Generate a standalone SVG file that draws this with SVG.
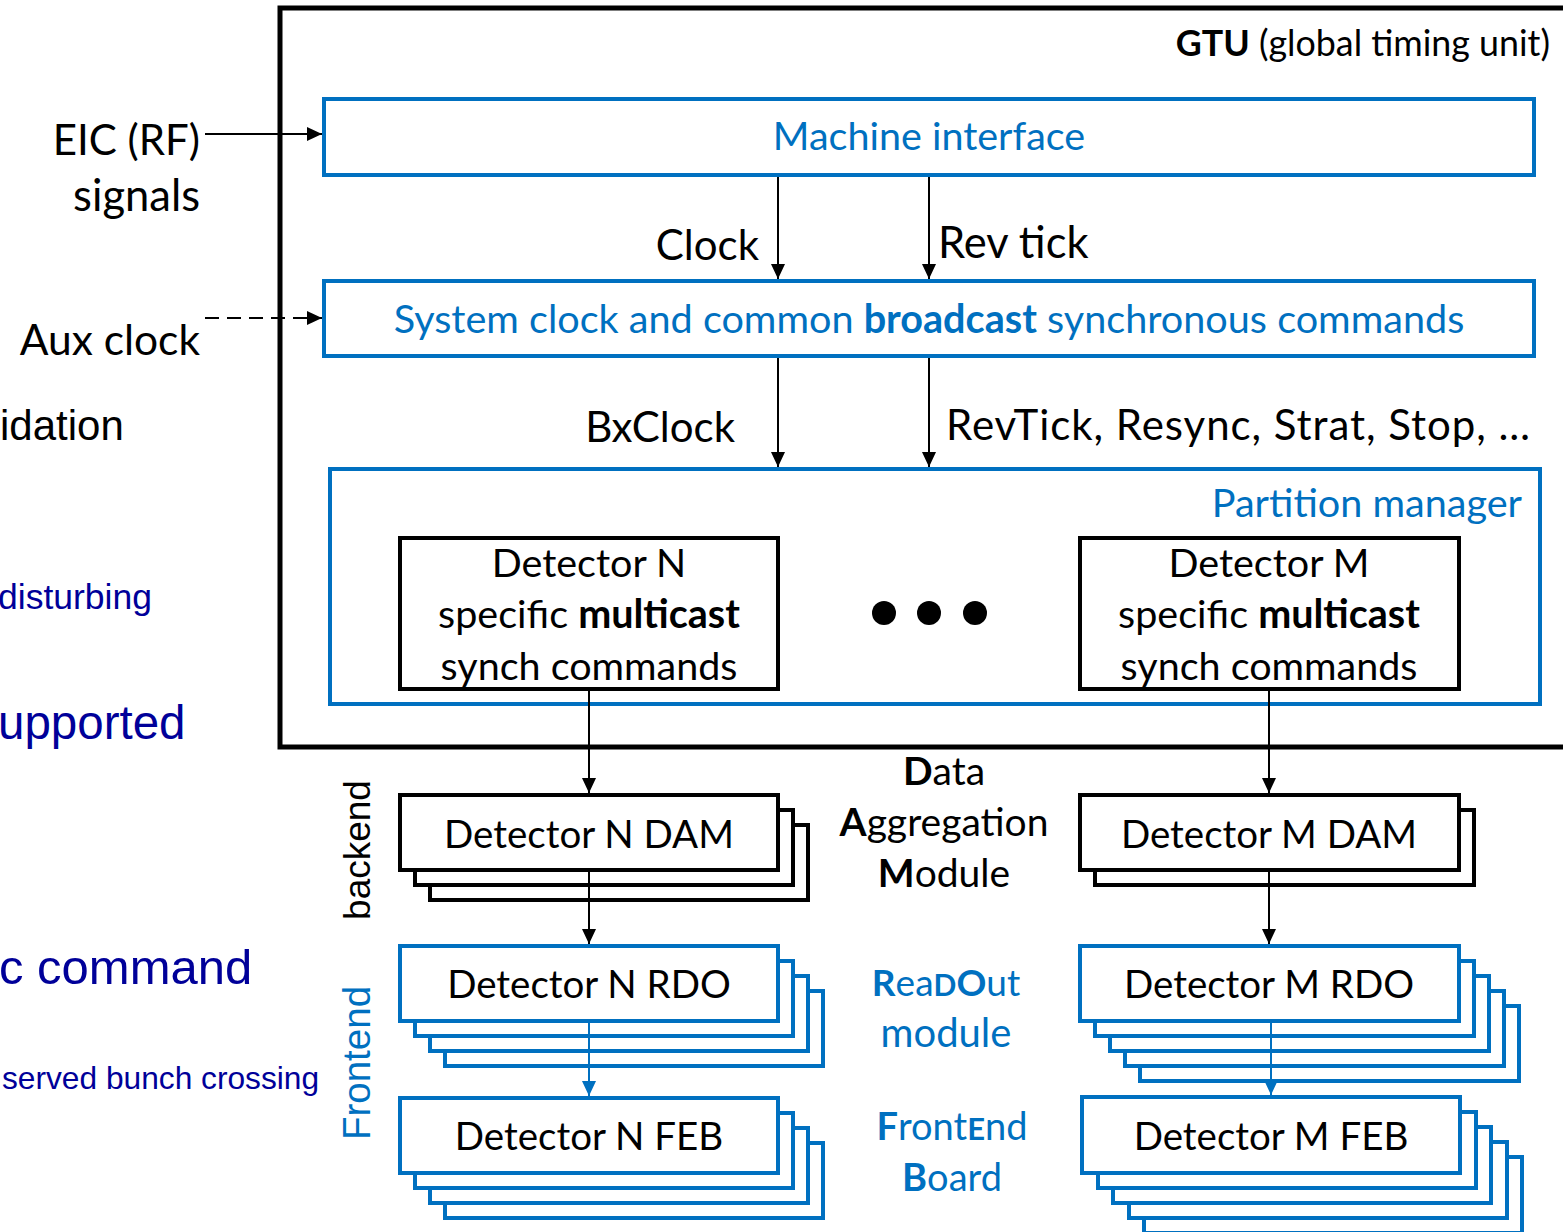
<svg xmlns="http://www.w3.org/2000/svg" width="1563" height="1232" viewBox="0 0 1563 1232">
  <defs>
    <style>
      .cal { font-family: Lato, "Open Sans", sans-serif; }
      .ari { font-family: "Liberation Sans", Arial, sans-serif; }
      .blk { fill: #000; }
      .blu { fill: #0070C0; }
      .nav { fill: #000099; }
      .b { font-weight: bold; }
      .boxB { fill: #fff; stroke: #0070C0; stroke-width: 4; }
      .boxK { fill: #fff; stroke: #000; stroke-width: 4; }
      .wire { fill: none; stroke: #000; stroke-width: 2; }
      .wireB { fill: none; stroke: #0070C0; stroke-width: 2; }
    </style>
    <marker id="arrK" markerUnits="userSpaceOnUse" markerWidth="16" markerHeight="14" refX="15" refY="7" orient="auto">
      <path d="M0,0 L15,7 L0,14 z" fill="#000"/>
    </marker>
    <marker id="arrB" markerUnits="userSpaceOnUse" markerWidth="16" markerHeight="14" refX="15" refY="7" orient="auto">
      <path d="M0,0 L15,7 L0,14 z" fill="#0070C0"/>
    </marker>
  </defs>

  <rect width="1563" height="1232" fill="#fff"/>

  <!-- side notes, partly outside the frame -->
  <g id="side-notes" class="ari">
    <text x="0" y="440" font-size="42" class="blk">idation</text>
    <text x="-2" y="609" font-size="35.5" class="nav">disturbing</text>
    <text x="-2" y="739" font-size="47.5" class="nav">upported</text>
    <text x="-1" y="984" font-size="49" class="nav">c command</text>
    <text x="2" y="1089" font-size="31.7" class="nav">served bunch crossing</text>
  </g>

  <!-- global timing unit frame -->
  <g id="gtu">
    <rect x="280" y="8" width="1300" height="739" fill="none" stroke="#000" stroke-width="5"/>
    <text x="1550" y="56" text-anchor="end" font-size="35.8" class="cal blk"><tspan class="b">GTU</tspan> (global timing unit)</text>
  </g>

  <!-- external inputs -->
  <g id="inputs" class="cal blk" font-size="42">
    <text x="200" y="155" text-anchor="end">EIC (RF)</text>
    <text x="200" y="211" text-anchor="end" font-size="43.5">signals</text>
    <text x="200" y="355" text-anchor="end" font-size="42.5">Aux clock</text>
  </g>

  <g id="machine-interface">
    <rect class="boxB" x="324" y="99" width="1210" height="76"/>
    <text x="929" y="150" text-anchor="middle" font-size="39.5" class="cal blu">Machine interface</text>
  </g>

  <g id="system-clock">
    <rect class="boxB" x="324" y="281" width="1210" height="75"/>
    <text x="929" y="333" text-anchor="middle" font-size="39.6" class="cal blu">System clock and common <tspan class="b">broadcast</tspan> synchronous commands</text>
  </g>

  <g id="partition-manager">
    <rect class="boxB" x="330" y="469" width="1210" height="235"/>
    <text x="1522" y="517" text-anchor="end" font-size="39.6" class="cal blu">Partition manager</text>
    <circle cx="884" cy="613" r="12" fill="#000"/>
    <circle cx="929" cy="613" r="12" fill="#000"/>
    <circle cx="975" cy="613" r="12" fill="#000"/>
  </g>

  <g id="multicast-n" class="cal blk" font-size="39.5">
    <rect class="boxK" x="400" y="538" width="378" height="151"/>
    <text x="589" y="577" text-anchor="middle">Detector N</text>
    <text x="589" y="628" text-anchor="middle">specific <tspan class="b">multicast</tspan></text>
    <text x="589" y="680" text-anchor="middle">synch commands</text>
  </g>

  <g id="multicast-m" class="cal blk" font-size="39.5">
    <rect class="boxK" x="1080" y="538" width="379" height="151"/>
    <text x="1269" y="577" text-anchor="middle">Detector M</text>
    <text x="1269" y="628" text-anchor="middle">specific <tspan class="b">multicast</tspan></text>
    <text x="1269" y="680" text-anchor="middle">synch commands</text>
  </g>

  <!-- level labels -->
  <g id="levels" class="ari">
    <text transform="translate(370,850) rotate(-90)" text-anchor="middle" font-size="37" class="blk">backend</text>
    <text transform="translate(370,1063) rotate(-90)" text-anchor="middle" font-size="38.5" class="blu">Frontend</text>
  </g>

  <g id="module-names" class="cal" font-size="39" text-anchor="middle">
    <text x="944" y="785" class="blk"><tspan class="b">D</tspan>ata</text>
    <text x="944" y="836" class="blk"><tspan class="b">A</tspan>ggregation</text>
    <text x="944" y="887" class="blk"><tspan class="b">M</tspan>odule</text>
    <text x="946" y="996" class="blu" font-size="37"><tspan class="b">R</tspan>ea<tspan class="b" font-size="30">D</tspan><tspan class="b">O</tspan>ut</text>
    <text x="946" y="1047" class="blu" font-size="40">module</text>
    <text x="952" y="1140" class="blu" font-size="38"><tspan class="b">F</tspan>ront<tspan class="b" font-size="31">E</tspan>nd</text>
    <text x="952" y="1191" class="blu" font-size="38"><tspan class="b">B</tspan>oard</text>
  </g>

  <!-- detector N chain -->
  <g id="dam-n" class="cal blk" font-size="38.5">
    <rect class="boxK" x="430" y="825" width="378" height="75"/>
    <rect class="boxK" x="415" y="810" width="378" height="75"/>
    <rect class="boxK" x="400" y="795" width="378" height="75"/>
    <text x="589" y="848" text-anchor="middle">Detector N DAM</text>
  </g>

  <g id="rdo-n" class="cal blk" font-size="38.5">
    <rect class="boxB" x="445" y="991" width="378" height="75"/>
    <rect class="boxB" x="430" y="976" width="378" height="75"/>
    <rect class="boxB" x="415" y="961" width="378" height="75"/>
    <rect class="boxB" x="400" y="946" width="378" height="75"/>
    <text x="589" y="998" text-anchor="middle">Detector N RDO</text>
  </g>

  <g id="feb-n" class="cal blk" font-size="38.5">
    <rect class="boxB" x="445" y="1143" width="378" height="75"/>
    <rect class="boxB" x="430" y="1128" width="378" height="75"/>
    <rect class="boxB" x="415" y="1113" width="378" height="75"/>
    <rect class="boxB" x="400" y="1098" width="378" height="75"/>
    <text x="589" y="1150" text-anchor="middle">Detector N FEB</text>
  </g>

  <!-- detector M chain -->
  <g id="dam-m" class="cal blk" font-size="38.5">
    <rect class="boxK" x="1095" y="810" width="379" height="75"/>
    <rect class="boxK" x="1080" y="795" width="379" height="75"/>
    <text x="1269" y="848" text-anchor="middle">Detector M DAM</text>
  </g>

  <g id="rdo-m" class="cal blk" font-size="38.5">
    <rect class="boxB" x="1140" y="1006" width="379" height="75"/>
    <rect class="boxB" x="1125" y="991" width="379" height="75"/>
    <rect class="boxB" x="1110" y="976" width="379" height="75"/>
    <rect class="boxB" x="1095" y="961" width="379" height="75"/>
    <rect class="boxB" x="1080" y="946" width="379" height="75"/>
    <text x="1269" y="998" text-anchor="middle">Detector M RDO</text>
  </g>

  <g id="feb-m" class="cal blk" font-size="38.5">
    <rect class="boxB" x="1144" y="1157" width="378" height="76"/>
    <rect class="boxB" x="1129" y="1142" width="378" height="76"/>
    <rect class="boxB" x="1113" y="1127" width="378" height="76"/>
    <rect class="boxB" x="1098" y="1112" width="378" height="76"/>
    <rect class="boxB" x="1082" y="1097" width="378" height="76"/>
    <text x="1271" y="1150" text-anchor="middle">Detector M FEB</text>
  </g>

  <!-- connectors -->
  <g id="connectors">
    <line class="wire" x1="205" y1="134" x2="322" y2="134" marker-end="url(#arrK)"/>
    <line class="wire" x1="205" y1="318" x2="322" y2="318" stroke-dasharray="14 8" marker-end="url(#arrK)"/>
    <line class="wire" x1="778" y1="177" x2="778" y2="279" marker-end="url(#arrK)"/>
    <line class="wire" x1="929" y1="177" x2="929" y2="279" marker-end="url(#arrK)"/>
    <line class="wire" x1="778" y1="358" x2="778" y2="467" marker-end="url(#arrK)"/>
    <line class="wire" x1="929" y1="358" x2="929" y2="467" marker-end="url(#arrK)"/>
    <line class="wire" x1="589" y1="691" x2="589" y2="793" marker-end="url(#arrK)"/>
    <line class="wire" x1="1269" y1="691" x2="1269" y2="793" marker-end="url(#arrK)"/>
    <line class="wire" x1="589" y1="872" x2="589" y2="944" marker-end="url(#arrK)"/>
    <line class="wire" x1="1269" y1="872" x2="1269" y2="944" marker-end="url(#arrK)"/>
    <line class="wireB" x1="589" y1="1023" x2="589" y2="1096" marker-end="url(#arrB)"/>
    <line class="wireB" x1="1271" y1="1023" x2="1271" y2="1095" marker-end="url(#arrB)"/>
  </g>

  <!-- arrow labels -->
  <g id="arrow-labels" class="cal blk" font-size="42">
    <text x="759" y="260" text-anchor="end">Clock</text>
    <text x="938" y="258" font-size="43.5">Rev tick</text>
    <text x="735" y="442" text-anchor="end">BxClock</text>
    <text x="946" y="440" textLength="584">RevTick, Resync, Strat, Stop, …</text>
  </g>
</svg>
